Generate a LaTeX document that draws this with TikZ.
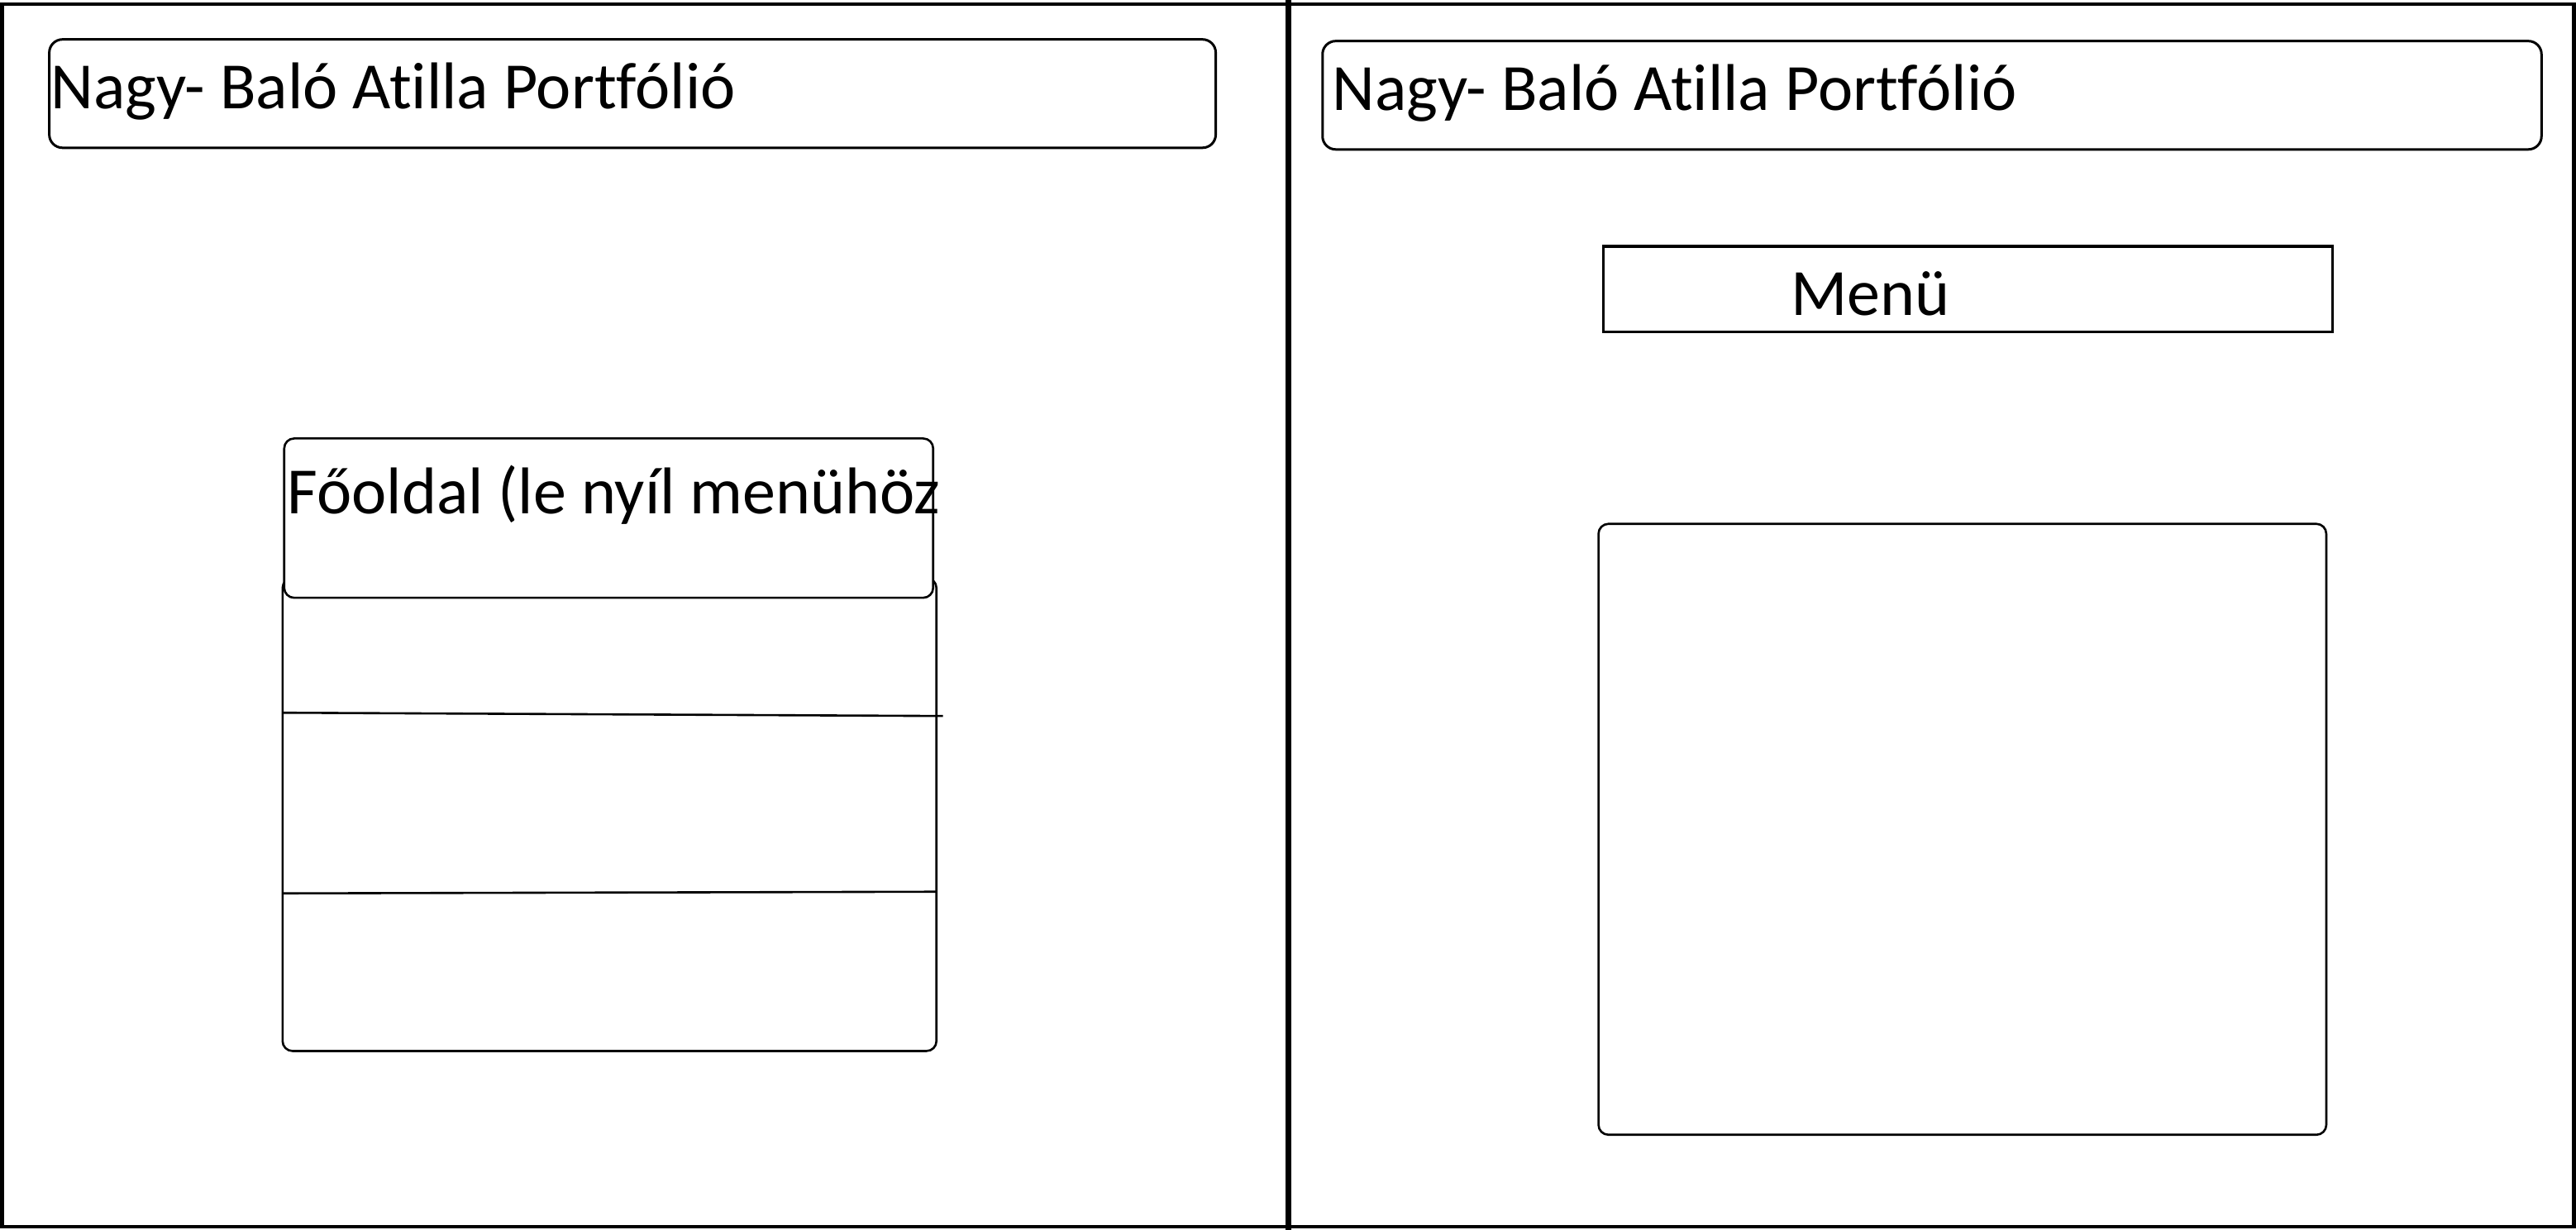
\documentclass[tikz,border=0pt]{standalone}
\usepackage{fontspec}
\setmainfont{Carlito}[Ligatures=NoCommon]
\begin{document}
\begin{tikzpicture}[x=1.98724pt,y=-1.98665pt]
\tikzset{
  lbl/.style={font=\fontsize{80}{96}\selectfont, anchor=base west, inner sep=0pt, outer sep=0pt},
  rbox/.style={draw=black, line width=2.6pt, rounded corners=12pt},
  tbox/.style={draw=black, line width=3pt, rounded corners=16pt},
  sbox/.style={draw=black, line width=3pt},
  frameline/.style={line width=4.5pt},
  divline/.style={line width=7pt},
  rowline/.style={line width=2.6pt}
}
\useasboundingbox (0,0) rectangle (1568,749);
\fill[white] (0,0) rectangle (1568,749);
% outer frame and divider
\draw[frameline] (1.2,2.6) rectangle (1566.6,747);
\draw[divline] (784,0) -- (784,749);
% left screen
\draw[tbox] (30,24) rectangle (740,90);
\node[lbl] (titleL) at (31,66) {Nagy- Baló Atilla Portfólió};
\draw[rbox] (172,352) rectangle (570,640);
\coordinate (r1a) at (172,434); \coordinate (r1b) at (574,436);
\coordinate (r2a) at (172,544); \coordinate (r2b) at (570,543);
\draw[rowline] (r1a) -- (r1b);
\draw[rowline] (r2a) -- (r2b);
\draw[rbox, fill=white] (173,267) rectangle (568,364);
\node[lbl] (home) at (175,313) {Főoldal (le nyíl menühöz};
% right screen
\draw[tbox] (805,25) rectangle (1547,91);
\node[lbl] (titleR) at (811,67) {Nagy- Baló Atilla Portfólió};
\draw[sbox] (976,150) rectangle (1420,202);
\node[lbl] (menu) at (1090,192) {Menü};
\draw[rbox] (973,319) rectangle (1416,691);
\end{tikzpicture}
\end{document}
